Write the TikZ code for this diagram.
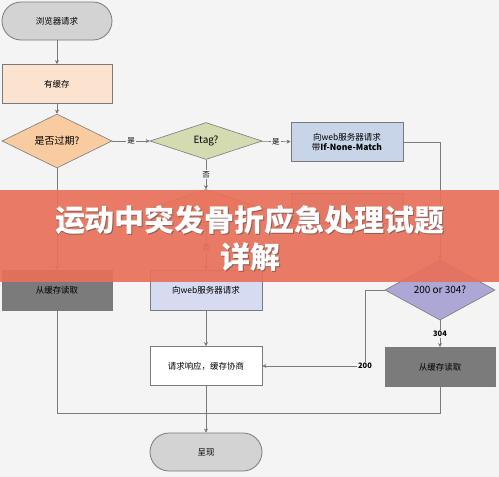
\documentclass[tikz,border=0pt]{standalone}
\usepackage{fontspec}
\newfontfamily\cjk{Noto Sans CJK SC}
\usetikzlibrary{shapes.geometric}
\usetikzlibrary{arrows.meta}
\definecolor{bggray}{HTML}{F4F4F4}
\definecolor{linegray}{HTML}{7A7A7A}
\definecolor{pillgray}{HTML}{D3D3D3}
\definecolor{peach}{HTML}{FCE3CF}
\definecolor{orangedia}{HTML}{F8CBA1}
\definecolor{olivedia}{HTML}{D5DBB0}
\definecolor{lightblue}{HTML}{C8D4E7}
\definecolor{darkbox}{HTML}{7B7B7B}
\definecolor{lavender}{HTML}{D7DBF1}
\definecolor{purpledia}{HTML}{ADA7D5}
\definecolor{bannerred}{HTML}{E8705A}

\begin{document}
\begin{tikzpicture}[x=1pt,y=-1pt,>={Stealth[length=4pt,width=4pt]},
    font=\cjk\fontsize{8.5}{10}\selectfont,
    term node/.style={rectangle,rounded corners=19pt,draw=linegray,fill=pillgray,line width=0.8pt,minimum width=110pt,minimum height=38pt},
    box node/.style={rectangle,draw=linegray,line width=0.8pt,minimum width=110pt,minimum height=39pt,align=center},
    dec node/.style={diamond,draw=linegray,line width=0.6pt,minimum width=110pt,minimum height=37pt,inner sep=0pt},
    flow/.style={->,draw=linegray,line width=0.6pt},
    lbl/.style={fill=bggray,inner sep=1pt,font=\cjk\fontsize{7.5}{9}\selectfont},
    num lbl/.style={fill=bggray,inner sep=1pt,font=\cjk\bfseries\fontsize{7.5}{9}\selectfont}]
  \fill[bggray] (0,0) rectangle (499,477);
  \useasboundingbox (0,0) rectangle (499,477);

  % left column
  \node[term node] (llq) at (57,21) {浏览器请求};
  \node[box node,fill=peach] (yhc) at (57,84) {有缓存};
  \node[dec node,fill=orangedia,font=\cjk\fontsize{10}{12}\selectfont] (gq) at (57,141) {是否过期?};
  \node[box node,fill=darkbox,minimum height=40pt] (hcdq1) at (57,290) {从缓存读取};

  % middle column
  \node[dec node,fill=olivedia,minimum width=112pt,font=\cjk\fontsize{10}{12}\selectfont] (etag) at (206,141) {Etag?};
  \node[dec node,fill=orangedia,minimum width=112pt] (lm) at (206,208) {};
  \node[box node,fill=lavender,minimum width=112pt,minimum height=40pt] (webqq) at (206,290) {向web服务器请求};
  \node[box node,fill=white,minimum width=112pt] (xyxs) at (206,366) {请求响应，缓存协商};
  \node[term node,minimum width=112pt] (cx) at (206,452) {呈现};

  % right column
  \node[box node,fill=lightblue,minimum width=112pt] (inm) at (347,142) {向web服务器请求\\带\textbf{If-None-Match}};
  \node[box node,fill=lightblue,minimum width=112pt,minimum height=30pt] (ims) at (347,208) {};
  \node[dec node,fill=purpledia,minimum width=110pt,minimum height=36pt,font=\cjk\fontsize{10}{12}\selectfont] (dec) at (440,290) {200 or 304?};
  \node[box node,fill=darkbox] (hcdq2) at (440,367) {从缓存读取};

  \coordinate (join) at (206,413);
  \coordinate (bend) at (365,290);
  \coordinate (rside) at (440,142);

  \path[flow] (llq) edge (yhc);
  \path[flow] (yhc) edge (gq);
  \path[flow] (gq) edge node[lbl] {是} (etag);
  \path[flow] (etag) edge node[lbl] {是} (inm);
  \path[flow] (etag) edge node[lbl] {否} (lm);
  \path[flow] (lm) edge node[lbl] {否} (webqq);
  \path[flow] (lm) edge (ims);
  \path[flow] (gq) edge (hcdq1);
  \path[flow] (webqq) edge (xyxs);
  \path[flow] (xyxs) edge (cx);
  \draw[flow] (inm.east) -- (rside) -- (dec.north);
  \draw[draw=linegray,line width=0.6pt] (ims.east) -- (440,208);
  \draw[flow] (dec.west) -- (bend) |- node[pos=0.5,num lbl] {200} (xyxs.east);
  \path[flow] (dec) edge node[num lbl] {304} (hcdq2);
  \draw[draw=linegray,line width=0.6pt] (hcdq1.south) |- (join);
  \draw[draw=linegray,line width=0.6pt] (hcdq2.south) |- (join);

  % title banner
  \fill[bannerred,opacity=0.92] (0,190) rectangle (499,282);
  \node[text=black!70,opacity=0.6,font=\cjk\bfseries\fontsize{30}{32}\selectfont] (titleshadow) at (251,221) {运动中突发骨折应急处理试题};
  \node[text=white,font=\cjk\bfseries\fontsize{30}{32}\selectfont] (title) at (250,220) {运动中突发骨折应急处理试题};
  \node[text=black!70,opacity=0.6,font=\cjk\bfseries\fontsize{30}{32}\selectfont] (subshadow) at (251,258) {详解};
  \node[text=white,font=\cjk\bfseries\fontsize{30}{32}\selectfont] (subtitle) at (250,257) {详解};
\end{tikzpicture}
\end{document}
